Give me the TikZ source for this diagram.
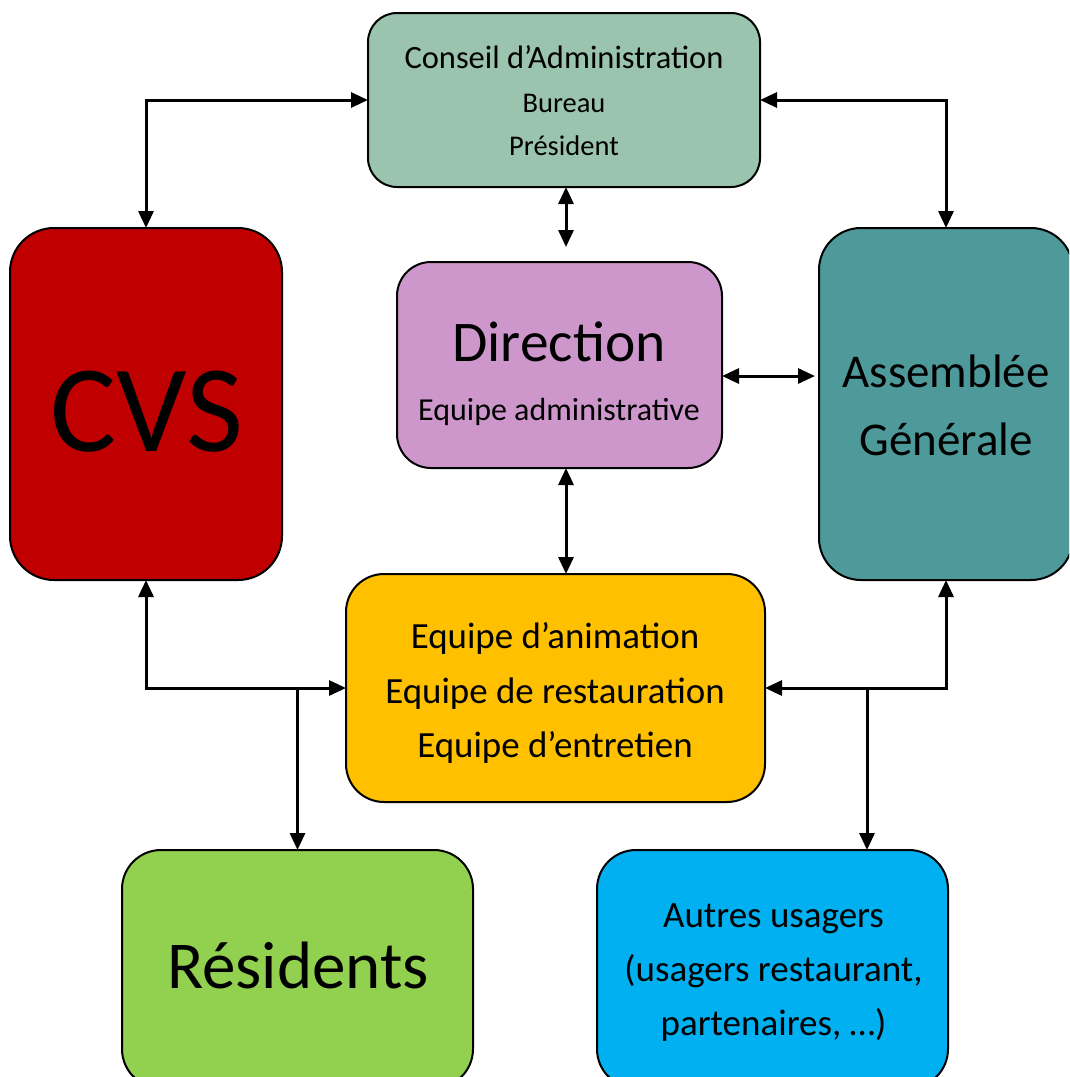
\documentclass[tikz,border=0pt]{standalone}
\usepackage{fontspec}
\setmainfont{Carlito}
\usetikzlibrary{arrows.meta}
\definecolor{cconseil}{RGB}{155,196,174}
\definecolor{ccvs}{RGB}{192,0,0}
\definecolor{cdir}{RGB}{206,151,203}
\definecolor{cag}{RGB}{78,154,155}
\definecolor{cequipe}{RGB}{255,192,0}
\definecolor{cres}{RGB}{146,208,80}
\definecolor{cautres}{RGB}{0,176,240}
\newcommand{\fsz}[1]{\fontsize{#1}{#1}\selectfont}
\begin{document}
\begin{tikzpicture}[x=1pt,y=-1pt,
  box/.style={draw=black,line width=2pt,inner sep=0pt,outer sep=0pt},
  txt/.style={anchor=base,inner sep=0pt,text=black},
  conn/.style={line width=3pt,{Triangle[length=17pt,width=15pt]}-{Triangle[length=17pt,width=15pt]}},
  onetip/.style={line width=3pt,-{Triangle[length=17pt,width=15pt]}}]
\useasboundingbox (0,0) rectangle (1069,1077);
\clip (0,0) rectangle (1069,1077);
% boxes
\node[box,fill=cconseil,rounded corners=29pt,minimum width=392pt,minimum height=174pt] (conseil) at (564,100) {};
\node[box,fill=ccvs,rounded corners=44pt,minimum width=272pt,minimum height=352pt] (cvs) at (146,404) {};
\node[box,fill=cdir,rounded corners=34pt,minimum width=325pt,minimum height=206pt] (direction) at (559.5,365) {};
\node[box,fill=cag,rounded corners=42pt,minimum width=254pt,minimum height=352pt] (ag) at (946,404) {};
\node[box,fill=cequipe,rounded corners=38pt,minimum width=419pt,minimum height=228pt] (equipe) at (555.5,688) {};
\node[box,fill=cres,rounded corners=39pt,minimum width=351pt,minimum height=238pt] (residents) at (297.5,969) {};
\node[box,fill=cautres,rounded corners=39pt,minimum width=351pt,minimum height=238pt] (autres) at (772.5,969) {};
% texts
\node[txt,font=\fsz{32.5}] (t1) at (564,68) {Conseil d’Administration};
\node[txt,font=\fsz{28.5}] (t2) at (564,112) {Bureau};
\node[txt,font=\fsz{28.5}] (t3) at (564,155) {Président};
\node[txt,font=\fsz{124}] (t4) at (147,451) {CVS};
\node[txt,font=\fsz{57.5}] (t5) at (559,361) {Direction};
\node[txt,font=\fsz{32}] (t6) at (559,420) {Equipe administrative};
\node[txt,font=\fsz{47}] (t7) at (946,387) {Assemblée};
\node[txt,font=\fsz{47}] (t8) at (946,455) {Générale};
\node[txt,font=\fsz{36.9}] (t9) at (555,648) {Equipe d’animation};
\node[txt,font=\fsz{36.9}] (t10) at (555,703) {Equipe de restauration};
\node[txt,font=\fsz{36.9}] (t11) at (555,757) {Equipe d’entretien};
\node[txt,font=\fsz{67}] (t12) at (298,988) {Résidents};
\node[txt,font=\fsz{37}] (t13) at (773.5,927) {Autres usagers};
\node[txt,font=\fsz{37}] (t14) at (773.5,981) {(usagers restaurant,};
\node[txt,font=\fsz{37}] (t15) at (773.5,1035) {partenaires, …)};
% connectors
\coordinate (cdEnd) at (566,247);
\coordinate (daR) at (815,376);
\coordinate (ax) at (867,850);
\draw[conn] (cvs.north) |- (conseil.west);
\draw[conn] (conseil.east) -| (ag.north);
\draw[conn] (conseil.south -| cdEnd) -- (cdEnd);
\draw[conn] (direction.south -| cdEnd) -- (equipe.north -| cdEnd);
\draw[conn] (direction.east |- daR) -- (daR);
\draw[conn] (cvs.south) |- (equipe.west);
\draw[onetip] (residents.north |- equipe.west) -- (residents.north);
\draw[conn] (ag.south) |- (equipe.east);
\draw[onetip] (ax |- equipe.east) -- (ax |- autres.north);
\end{tikzpicture}
\end{document}
